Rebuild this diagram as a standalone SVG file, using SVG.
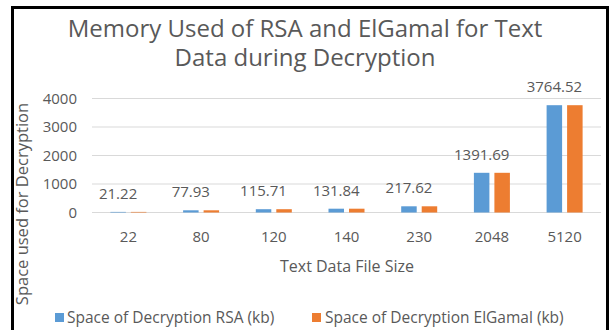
<svg xmlns="http://www.w3.org/2000/svg" width="611" height="330" viewBox="0 0 611 330">
<style>
text{font-family:"Open Sans","Liberation Sans",sans-serif;fill:#595959}
.title{font-size:24px;text-anchor:middle}
.tick{font-size:15px;text-anchor:end}
.cat{font-size:15px;text-anchor:middle}
.lbl{font-size:15px;text-anchor:middle}
.axt{font-size:16px;text-anchor:middle}
.axy{font-size:16.5px;text-anchor:middle}
.leg{font-size:15.5px}
.grid{stroke:#D9D9D9;stroke-width:1}
.rsa{fill:#5B9BD5}
.elg{fill:#ED7D31}
</style>
<rect x="0" y="0" width="611" height="330" fill="#fff"/>
<path d="M12.5 335V7.5H607.5V335" fill="none" stroke="#000" stroke-width="3"/>
<g id="title">
<text class="title" x="305" y="37">Memory Used of RSA and ElGamal for Text</text>
<text class="title" x="305" y="66">Data during Decryption</text>
</g>
<g id="grid">
<line class="grid" x1="92" y1="98.5" x2="601" y2="98.5"/>
<line class="grid" x1="92" y1="127" x2="601" y2="127"/>
<line class="grid" x1="92" y1="155.5" x2="601" y2="155.5"/>
<line class="grid" x1="92" y1="184" x2="601" y2="184"/>
<line class="grid" x1="92" y1="212.5" x2="601" y2="212.5"/>
</g>
<g id="y-axis">
<text class="tick" x="77" y="103.5">4000</text>
<text class="tick" x="77" y="132">3000</text>
<text class="tick" x="77" y="160.5">2000</text>
<text class="tick" x="77" y="189">1000</text>
<text class="tick" x="77" y="217.5">0</text>
<text class="axy" transform="translate(28 204) rotate(-90)">Space used for Decryption</text>
</g>
<g id="bars">
<rect class="rsa" x="110.4" y="211.9" width="15.5" height="0.6"/>
<rect class="elg" x="130.9" y="211.9" width="15.5" height="0.6"/>
<rect class="rsa" x="183.1" y="210.3" width="15.5" height="2.2"/>
<rect class="elg" x="203.6" y="210.3" width="15.5" height="2.2"/>
<rect class="rsa" x="255.8" y="209.2" width="15.5" height="3.3"/>
<rect class="elg" x="276.3" y="209.2" width="15.5" height="3.3"/>
<rect class="rsa" x="328.5" y="208.7" width="15.5" height="3.8"/>
<rect class="elg" x="349" y="208.7" width="15.5" height="3.8"/>
<rect class="rsa" x="401.2" y="206.3" width="15.5" height="6.2"/>
<rect class="elg" x="421.7" y="206.3" width="15.5" height="6.2"/>
<rect class="rsa" x="473.9" y="172.8" width="15.5" height="39.7"/>
<rect class="elg" x="494.4" y="172.8" width="15.5" height="39.7"/>
<rect class="rsa" x="546.6" y="105.2" width="15.5" height="107.3"/>
<rect class="elg" x="567.1" y="105.2" width="15.5" height="107.3"/>
</g>
<g id="data-labels">
<text class="lbl" x="118.1" y="198.9">21.22</text>
<text class="lbl" x="190.8" y="197.3">77.93</text>
<text class="lbl" x="263.5" y="196.2">115.71</text>
<text class="lbl" x="336.3" y="195.7">131.84</text>
<text class="lbl" x="409" y="193.3">217.62</text>
<text class="lbl" x="481.7" y="159.8">1391.69</text>
<text class="lbl" x="554.4" y="92.2">3764.52</text>
</g>
<g id="x-axis">
<text class="cat" x="128.4" y="242">22</text>
<text class="cat" x="201.1" y="242">80</text>
<text class="cat" x="273.8" y="242">120</text>
<text class="cat" x="346.5" y="242">140</text>
<text class="cat" x="419.2" y="242">230</text>
<text class="cat" x="491.9" y="242">2048</text>
<text class="cat" x="564.6" y="242">5120</text>
<text class="axt" x="347" y="272">Text Data File Size</text>
</g>
<g id="legend">
<rect class="rsa" x="55" y="313" width="9" height="9"/>
<text class="leg" x="67" y="323">Space of Decryption RSA (kb)</text>
<rect class="elg" x="312" y="313" width="9" height="9"/>
<text class="leg" x="325" y="323">Space of Decryption ElGamal (kb)</text>
</g>
</svg>
